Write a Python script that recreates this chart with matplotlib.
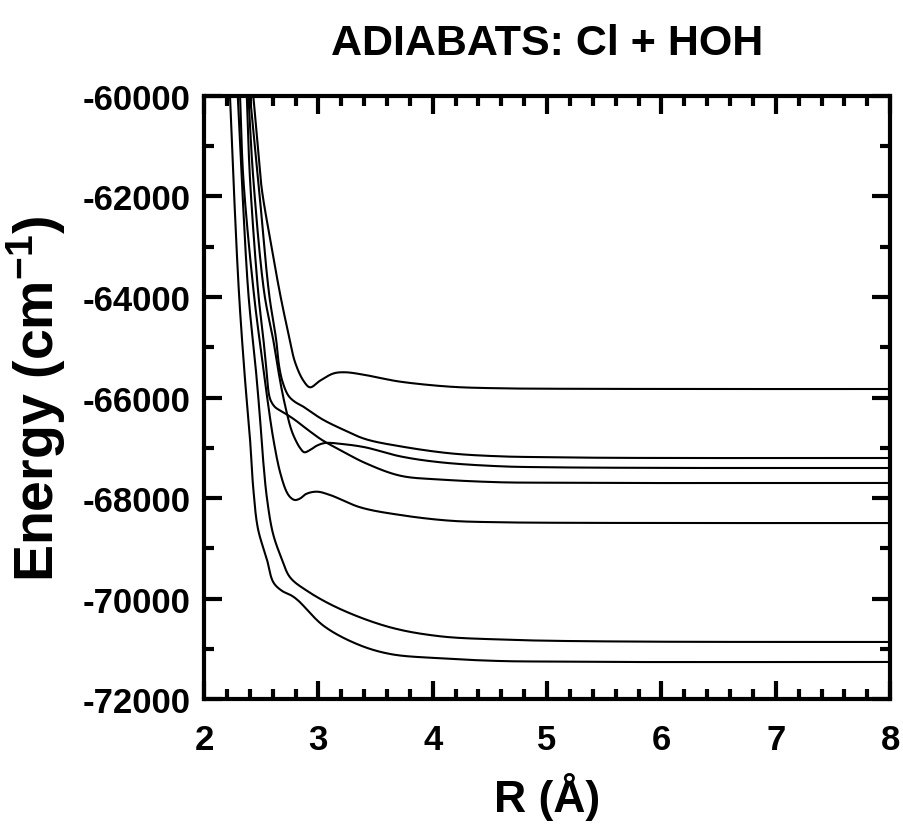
import numpy as np
import matplotlib
matplotlib.use("Agg")
import matplotlib.pyplot as plt
from matplotlib.ticker import MultipleLocator

plt.rcParams['font.family'] = ['Liberation Sans', 'DejaVu Sans']
plt.rcParams['font.weight'] = 'bold'
plt.rcParams['axes.unicode_minus'] = False
plt.rcParams['mathtext.fontset'] = 'custom'
plt.rcParams['mathtext.rm'] = 'Liberation Sans:bold'
plt.rcParams['mathtext.bf'] = 'Liberation Sans:bold'
plt.rcParams['mathtext.default'] = 'bf'

# adiabats, R in Angstrom, E in cm-1
r_a = [2.431, 2.468, 2.505, 2.586, 2.665, 2.748, 2.796, 2.869, 2.927, 3.015, 3.131,
       3.234, 3.409, 3.540, 3.715, 4.152, 4.590, 5.0, 6.339, 8.0]
e_a = [-60000, -60955, -61851, -62945, -63940, -64836, -65299, -65665, -65797, -65665,
       -65522, -65498, -65552, -65612, -65685, -65785, -65817, -65825, -65831, -65831]

r_b = [2.402, 2.481, 2.569, 2.630, 2.656, 2.687, 2.738, 2.796, 2.855, 3.030, 3.205,
       3.409, 3.715, 4.152, 4.590, 5.0, 5.465, 6.2, 8.0]
e_b = [-60000, -61851, -63940, -64836, -65367, -65692, -65964, -66089, -66163, -66428,
       -66627, -66826, -66971, -67111, -67171, -67188, -67199, -67204, -67204]

r_c = [2.374, 2.402, 2.475, 2.519, 2.545, 2.567, 2.585, 2.620, 2.665, 2.717, 2.796,
       2.910, 3.032, 3.190, 3.409, 3.715, 4.065, 4.590, 5.0, 5.465, 8.0]
e_c = [-60000, -61652, -63940, -64836, -65433, -65930, -66070, -66189, -66259, -66328,
       -66448, -66647, -66846, -67045, -67303, -67556, -67632, -67687, -67696, -67701, -67701]

r_d = [2.388, 2.431, 2.528, 2.604, 2.647, 2.682, 2.724, 2.761, 2.796, 2.840, 2.877,
       2.927, 2.986, 3.059, 3.205, 3.409, 3.715, 4.065, 4.590, 5.0, 6.0, 8.0]
e_d = [-60000, -61652, -63940, -64836, -65433, -65871, -66308, -66627, -66826, -67005,
       -67090, -67045, -66959, -66905, -66925, -66991, -67171, -67289, -67369, -67388,
       -67401, -67403]

r_e = [2.315, 2.344, 2.436, 2.490, 2.525, 2.560, 2.606, 2.665, 2.724, 2.761, 2.796,
       2.840, 2.892, 2.986, 3.102, 3.365, 3.715, 4.152, 4.590, 5.0, 6.339, 8.0]
e_e = [-60000, -61652, -63940, -64935, -65532, -66129, -66826, -67488, -67886, -68000,
       -68040, -68010, -67920, -67874, -67940, -68185, -68338, -68452, -68483, -68492,
       -68498, -68498]

r_f = [2.295, 2.330, 2.388, 2.455, 2.490, 2.516, 2.551, 2.604, 2.680, 2.752, 2.899,
       3.190, 3.627, 4.065, 4.590, 5.0, 6.0, 8.0]
e_f = [-60000, -61652, -63940, -65492, -66428, -67224, -68020, -68717, -69214, -69578,
       -69845, -70209, -70573, -70752, -70816, -70840, -70860, -70865]

r_g = [2.227, 2.257, 2.306, 2.358, 2.402, 2.431, 2.472, 2.549, 2.606, 2.680, 2.767,
       2.825, 3.044, 3.336, 3.627, 4.065, 4.590, 5.0, 5.6, 8.0]
e_g = [-60000, -61652, -63940, -65632, -66826, -67821, -68617, -69214, -69677, -69845,
       -69944, -70044, -70541, -70905, -71104, -71190, -71244, -71255, -71263, -71263]

curves = [(r_a, e_a), (r_b, e_b), (r_c, e_c), (r_d, e_d), (r_e, e_e), (r_f, e_f), (r_g, e_g)]


def smooth(r, e, n=30):
    # centripetal catmull-rom through the read points, in (roughly) screen proportions
    sx, sy = 6.86, 6.03
    x = (np.asarray(r, float) - 2) / 6 * sx
    y = (np.asarray(e, float) + 72000) / 12000 * sy
    p = np.column_stack([x, y])
    p = np.vstack([2 * p[0] - p[1], p, 2 * p[-1] - p[-2]])
    out = []
    for i in range(1, len(p) - 2):
        p0, p1, p2, p3 = p[i - 1], p[i], p[i + 1], p[i + 2]
        t0 = 0.0
        t1 = t0 + np.linalg.norm(p1 - p0) ** 0.5
        t2 = t1 + np.linalg.norm(p2 - p1) ** 0.5
        t3 = t2 + np.linalg.norm(p3 - p2) ** 0.5
        t = np.linspace(t1, t2, n, endpoint=False)[:, None]
        a1 = (t1 - t) / (t1 - t0) * p0 + (t - t0) / (t1 - t0) * p1
        a2 = (t2 - t) / (t2 - t1) * p1 + (t - t1) / (t2 - t1) * p2
        a3 = (t3 - t) / (t3 - t2) * p2 + (t - t2) / (t3 - t2) * p3
        b1 = (t2 - t) / (t2 - t0) * a1 + (t - t0) / (t2 - t0) * a2
        b2 = (t3 - t) / (t3 - t1) * a2 + (t - t1) / (t3 - t1) * a3
        out.append((t2 - t) / (t2 - t1) * b1 + (t - t1) / (t2 - t1) * b2)
    out.append(p[-2][None])
    out = np.vstack(out)
    return out[:, 0] / sx * 6 + 2, out[:, 1] / sy * 12000 - 72000


fig = plt.figure(figsize=(9.04, 8.29), dpi=100)
ax = fig.add_axes([0.2257, 0.1556, 0.759, 0.7274])

for r, e in curves:
    xs, ys = smooth(r, e)
    ax.plot(xs, ys, color='black', lw=1.5)

ax.set_xlim(2, 8)
ax.set_ylim(-72000, -60000)
ax.xaxis.set_major_locator(MultipleLocator(1))
ax.xaxis.set_minor_locator(MultipleLocator(0.2))
ax.yaxis.set_major_locator(MultipleLocator(2000))
ax.yaxis.set_minor_locator(MultipleLocator(1000))

for s in ax.spines.values():
    s.set_linewidth(3)
ax.tick_params(which='both', direction='in', top=True, right=True, width=3)
ax.tick_params(which='major', length=13)
ax.tick_params(which='minor', length=7.5)
ax.tick_params(axis='x', which='major', labelsize=25, pad=17)
ax.tick_params(axis='y', which='major', labelsize=25, pad=10)
for lab in ax.get_xticklabels() + ax.get_yticklabels():
    lab.set_fontweight('bold')

ax.set_xlabel('R (Å)', fontsize=32, fontweight='bold', labelpad=12)
ax.set_ylabel('Energy (cm$^{-1}$)', fontsize=40, fontweight='bold', labelpad=10)
ax.set_title('ADIABATS: Cl + HOH', fontsize=31, fontweight='bold', pad=30)

fig.savefig('out.png', dpi=100)
